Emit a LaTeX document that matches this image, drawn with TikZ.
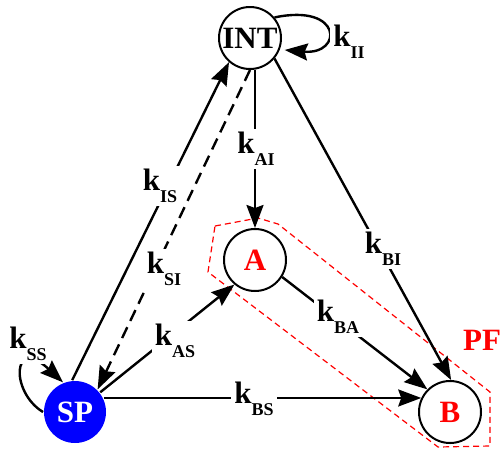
\documentclass[tikz,border=0pt]{standalone}
\usepackage{fontspec}
\setmainfont{Liberation Serif}
\usetikzlibrary{arrows.meta}
\newcommand\klab[1]{k\raisebox{-12pt}{\fontsize{18}{18}\selectfont #1}}
\begin{document}
\begin{tikzpicture}[x=1pt,y=-1pt,
  font=\fontsize{31}{31}\selectfont\bfseries,
  state/.style={circle,draw,line width=2pt,minimum size=62pt,inner sep=0pt},
  lab/.style={fill=white,inner sep=3pt},
  edge/.style={line width=2.4pt},
  arr/.style={edge,-{Stealth[length=23pt,width=17pt,inset=3pt]}},
  pf/.style={red,line width=1.2pt,dash pattern=on 6pt off 4pt}]
\useasboundingbox (0,0) rectangle (500,448);
% PF region
\draw[pf] (215,226) -- (258,218) -- (278,224) -- (490,392) -- (490,446) -- (438,447) -- (208,272) -- cycle;
% states
\node[state] (INT) at (250,38) {INT};
\node[state,draw=none,fill=blue,text=white] (SP) at (75,412) {SP};
\node[state,text=red] (A) at (255,260) {A};
\node[state,text=red] (B) at (450,412) {B};
% edges
\draw[arr] (SP.95) -- (INT.229);
\draw[arr,dash pattern=on 12pt off 7pt] (INT.south) -- (SP.45);
\draw[arr] (INT.south -| A.north) -- (A.north);
\draw[arr] (INT.-40) -- (B.88);
\draw[arr] (A.-32) -- (B.135);
\draw[arr] (SP.38) -- (A.230);
\draw[arr] (SP.26) -- (B.154);
\draw[arr] (INT.40) .. controls (343,3) and (343,55) .. ([xshift=5pt]INT.-22);
\draw[arr] (SP.180) .. controls (10,392) and (12,335) .. (SP.112);
% labels
\node[lab] (lIS) at (160,186) {\klab{IS}};
\node[lab] (lSI) at (164,269) {\klab{SI}};
\node[lab] (lAI) at (256,149) {\klab{AI}};
\node[lab] (lBI) at (383,249) {\klab{BI}};
\node[lab] (lBA) at (338,317) {\klab{BA}};
\node[lab] (lAS) at (175,341) {\klab{AS}};
\node[lab] (lBS) at (254,399) {\klab{BS}};
\node[lab] (lII) at (349,42) {\klab{II}};
\node[lab] (lSS) at (28,344) {\klab{SS}};
\node[text=red] (PF) at (482,340) {PF};
\end{tikzpicture}
\end{document}
